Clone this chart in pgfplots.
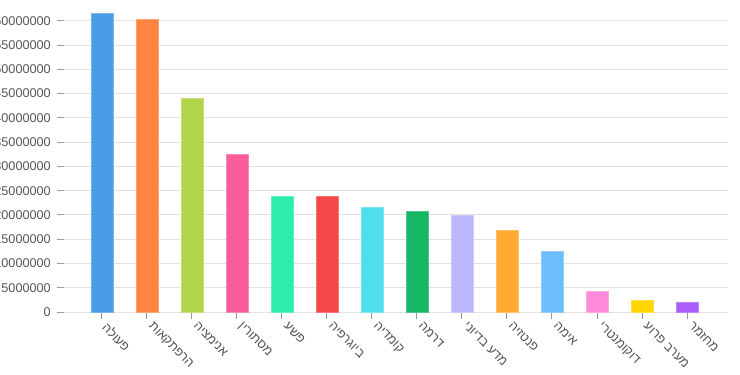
\documentclass[border=0pt]{standalone}
\usepackage{pgfplots}
\pgfplotsset{compat=1.18}
\usepackage{fontspec}
\setmainfont{Liberation Sans}
\newfontfamily\hebfont[Script=Hebrew]{Liberation Sans}
\TeXXeTstate=1
\definecolor{gridgray}{HTML}{E2E2E2}
\definecolor{tickgray}{HTML}{9A9A9A}
\definecolor{labelgray}{HTML}{555555}
\definecolor{c1}{HTML}{4A9BE8}
\definecolor{c2}{HTML}{FF8442}
\definecolor{c3}{HTML}{B2D44A}
\definecolor{c4}{HTML}{FA5D9C}
\definecolor{c5}{HTML}{2EEDAA}
\definecolor{c6}{HTML}{F44848}
\definecolor{c7}{HTML}{4EDEEC}
\definecolor{c8}{HTML}{16B664}
\definecolor{c9}{HTML}{BBB8FE}
\definecolor{c10}{HTML}{FFAB33}
\definecolor{c11}{HTML}{6CBEFF}
\definecolor{c12}{HTML}{FF8ADB}
\definecolor{c13}{HTML}{FFD600}
\definecolor{c14}{HTML}{A95DFA}
\begin{document}
\begin{tikzpicture}
\begin{axis}[
  scale only axis, width=498pt, height=225.7pt,
  xmin=-0.844, xmax=13.911, ymin=0, ymax=62000000,
  axis line style={draw=none},
  ybar, bar width=16.5pt, bar shift=0pt,
  ytick={0,5000000,10000000,15000000,20000000,25000000,30000000,35000000,40000000,45000000,50000000,55000000,60000000},
  ymajorgrids, grid style={color=gridgray, line width=0.75pt},
  xtick={0,1,2,3,4,5,6,7,8,9,10,11,12,13},
  xticklabels={
    {\hebfont\beginR פעולה\endR},
    {\hebfont\beginR הרפתקאות\endR},
    {\hebfont\beginR אנימציה\endR},
    {\hebfont\beginR מסתורין\endR},
    {\hebfont\beginR פשע\endR},
    {\hebfont\beginR ביוגרפיה\endR},
    {\hebfont\beginR קומדיה\endR},
    {\hebfont\beginR דרמה\endR},
    {\hebfont\beginR מדע בדיוני\endR},
    {\hebfont\beginR פנטזיה\endR},
    {\hebfont\beginR אימה\endR},
    {\hebfont\beginR דוקומנטרי\endR},
    {\hebfont\beginR מערב פרוע\endR},
    {\hebfont\beginR מחזמר\endR}},
  tick align=outside, tick pos=left, major tick length=5.4pt,
  tick style={color=tickgray, line width=0.75pt},
  scaled y ticks=false,
  /pgf/number format/.cd, fixed, precision=0, 1000 sep={}, assume math mode=true,
  /pgfplots/.cd,
  ticklabel style={font=\fontsize{9.5}{10}\selectfont, text=labelgray},
  yticklabel style={xshift=-1pt},
  xticklabel style={xshift=5pt, rotate=-45, anchor=north west, inner sep=1pt},
]
\coordinate (O) at (rel axis cs:0,0);
\addplot[fill=c1, draw=c1!75!white] coordinates {(0,61600000)};
\addplot[fill=c2, draw=c2!75!white] coordinates {(1,60300000)};
\addplot[fill=c3, draw=c3!75!white] coordinates {(2,44100000)};
\addplot[fill=c4, draw=c4!75!white] coordinates {(3,32500000)};
\addplot[fill=c5, draw=c5!75!white] coordinates {(4,23800000)};
\addplot[fill=c6, draw=c6!75!white] coordinates {(5,23800000)};
\addplot[fill=c7, draw=c7!75!white] coordinates {(6,21500000)};
\addplot[fill=c8, draw=c8!75!white] coordinates {(7,20700000)};
\addplot[fill=c9, draw=c9!75!white] coordinates {(8,20000000)};
\addplot[fill=c10, draw=c10!75!white] coordinates {(9,16900000)};
\addplot[fill=c11, draw=c11!75!white] coordinates {(10,12500000)};
\addplot[fill=c12, draw=c12!75!white] coordinates {(11,4300000)};
\addplot[fill=c13, draw=c13!75!white] coordinates {(12,2500000)};
\addplot[fill=c14, draw=c14!75!white] coordinates {(13,2000000)};
\end{axis}
\pgfresetboundingbox
\path[use as bounding box] ([shift={(-48pt,-47.25pt)}]O) rectangle ([shift={(507pt,234pt)}]O);
\end{tikzpicture}
\end{document}
